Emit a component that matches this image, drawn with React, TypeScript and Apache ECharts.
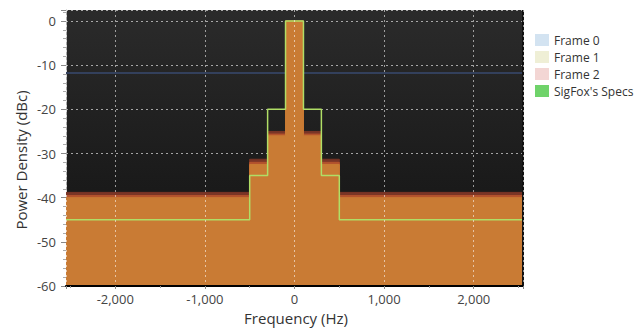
import React, { useEffect, useRef } from "react";
import * as echarts from "echarts";

const frequencies = [-2550, -500, -300, -100, 100, 300, 500, 2550];
const frame0 = [-40, -32.5, -26, 0, -26, -32.5, -40, -40];
const frame1 = [-39.5, -32, -25.6, 0, -25.6, -32, -39.5, -39.5];
const frame2 = [-38.8, -31.3, -25, 0, -25, -31.3, -38.8, -38.8];
const specs = [-45, -35, -20, 0, -20, -35, -45, -45];
const seriesNames = ["Frame 0", "Frame 1", "Frame 2", "SigFox's Specs"];
const legendColors = ["#d3e3f1", "#efefd6", "#f3d6d4", "#6fd36a"];
const xTitle = "Frequency (Hz)";
const yTitle = "Power Density (dBc)";

const pts = (vals: number[]) => frequencies.map((f, i) => [f, vals[i]]);

const FONT = "Open Sans";

export default function App() {
  const ref = useRef<HTMLDivElement>(null);
  useEffect(() => {
    if (!ref.current) return;
    const chart = echarts.init(ref.current, null, { renderer: "svg" });
    const frameSeries = (name: string, vals: number[], color: string, z: number, extra: any = {}) => ({
      name,
      type: "line",
      step: "end",
      data: pts(vals),
      showSymbol: false,
      symbol: "none",
      z,
      lineStyle: { color, width: 1 },
      itemStyle: { color },
      areaStyle: { color, opacity: 1, origin: "start" },
      ...extra,
    });
    chart.setOption({
      animation: false,
      textStyle: { fontFamily: FONT },
      grid: {
        left: 66,
        right: 119,
        top: 10,
        bottom: 42,
        show: true,
        borderWidth: 0,
        outerBoundsMode: "none",
        containLabel: false,
        backgroundColor: new echarts.graphic.LinearGradient(0, 0, 0, 1, [
          { offset: 0, color: "#2b2b2b" },
          { offset: 0.6, color: "#1b1b1b" },
          { offset: 1, color: "#141414" },
        ]),
      },
      graphic: [
        {
          type: "text",
          x: 21,
          y: 160,
          rotation: Math.PI / 2,
          style: {
            text: yTitle,
            fontFamily: FONT,
            fontSize: 15,
            fill: "#333",
            textAlign: "center",
            textVerticalAlign: "middle",
          },
        },
        {
          type: "text",
          x: 296,
          y: 318,
          style: {
            text: xTitle,
            fontFamily: FONT,
            fontSize: 15,
            fill: "#333",
            textAlign: "center",
            textVerticalAlign: "middle",
          },
        },
      ],
      legend: {
        orient: "vertical",
        left: 530,
        top: 29,
        icon: "rect",
        itemWidth: 14,
        itemHeight: 12,
        itemGap: 5,
        textStyle: { fontFamily: FONT, fontSize: 12, color: "#333" },
        data: seriesNames.map((n, i) => ({ name: n, itemStyle: { color: legendColors[i], borderWidth: 0 } })),
      },
      xAxis: {
        type: "value",
        min: -2550,
        max: 2550,
        splitNumber: 5,
        z: 10,
        axisLine: { onZero: false, lineStyle: { color: "#000", width: 2 } },
        axisTick: { length: 3, lineStyle: { color: "#888" } },
        minorTick: { show: true, splitNumber: 2, length: 2, lineStyle: { color: "#999" } },
        axisLabel: {
          margin: 6,
          fontSize: 13,
          color: "#444",
          fontFamily: FONT,
          formatter: (v: number) => (v % 1000 === 0 ? v.toLocaleString("en-US") : ""),
        },
        splitLine: { show: true, lineStyle: { color: "rgba(255,255,255,0.55)", type: [2, 3], width: 1 } },
      },
      yAxis: {
        type: "value",
        min: -60,
        max: 2.5,
        interval: 10,
        axisLine: { show: true, onZero: false, lineStyle: { color: "#aaa", width: 1 } },
        axisTick: { show: true, length: 5, lineStyle: { color: "#888" } },
        minorTick: { show: true, splitNumber: 5, length: 3, lineStyle: { color: "#aaa" } },
        axisLabel: {
          margin: 10,
          fontSize: 13,
          color: "#444",
          fontFamily: FONT,
          formatter: (v: number) => (v % 10 === 0 ? String(v) : ""),
        },
        splitLine: { show: true, lineStyle: { color: "rgba(255,255,255,0.6)", type: [2, 3], width: 1 } },
      },
      series: [
        frameSeries("Frame 2", frame2, "#7a3526", 1, {
          markLine: {
            silent: true,
            z: 1,
            symbol: "none",
            label: { show: false },
            lineStyle: { color: "#33405c", width: 2, type: "solid" },
            data: [{ yAxis: -11.8 }],
          },
        }),
        frameSeries("Frame 1", frame1, "#b4532d", 2),
        frameSeries("Frame 0", frame0, "#c97b34", 3),
        {
          name: "SigFox's Specs",
          type: "line",
          step: "end",
          data: pts(specs),
          showSymbol: false,
          symbol: "none",
          z: 5,
          lineStyle: { color: "#b0de66", width: 1.5 },
          itemStyle: { color: "#b0de66" },
          markLine: {
            silent: true,
            z: 6,
            symbol: "none",
            label: { show: false },
            lineStyle: { color: "#111", width: 2, type: "solid" },
            data: [{ xAxis: 2550 }],
          },
        },
      ],
    });
    return () => chart.dispose();
  }, []);
  return <div ref={ref} style={{ width: 642, height: 328, position: "absolute", left: 0, top: 0 }} />;
}
